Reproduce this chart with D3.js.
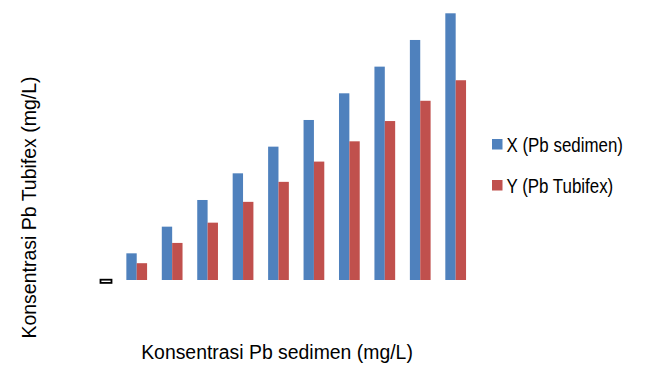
<!DOCTYPE html>
<html>
<head>
<meta charset="utf-8">
<script src="https://cdn.jsdelivr.net/npm/d3@7"></script>
<style>
  html, body { margin: 0; padding: 0; background: #fff; }
  svg { display: block; }
  text { font-family: "Liberation Sans", Arial, sans-serif; fill: #000; }
</style>
</head>
<body>
<svg id="chart" width="645" height="367"></svg>
<script>
const categories = ["1","2","3","4","5","6","7","8","9","10"];
const seriesNames = ["X (Pb sedimen)", "Y (Pb Tubifex)"];
const xValues = [1, 2, 3, 4, 5, 6, 7, 8, 9, 10];
const yValues = [0.63, 1.39, 2.15, 2.93, 3.68, 4.44, 5.2, 5.96, 6.72, 7.49];
const seriesColors = ["#4F81BD", "#C0504D"];
const yDomain = [0, 10];
const xTitle = "Konsentrasi Pb sedimen (mg/L)";
const yTitle = "Konsentrasi Pb Tubifex (mg/L)";

const svg = d3.select("#chart");
const plot = { left: 119, right: 473.4, top: 13.3, bottom: 280 };

const x0 = d3.scaleBand().domain(categories)
  .range([plot.left, plot.right]).paddingInner(0.415).paddingOuter(0.2075);
const x1 = d3.scaleBand().domain([0, 1]).range([0, x0.bandwidth()]);
const y = d3.scaleLinear().domain(yDomain).range([plot.bottom, plot.top]);

const data = categories.map((c, i) => ({ cat: c, vals: [xValues[i], yValues[i]] }));

const g = svg.append("g");
const groups = g.selectAll("g.grp").data(data).join("g")
  .attr("transform", d => `translate(${x0(d.cat)},0)`);
groups.selectAll("rect").data(d => d.vals.map((v, k) => ({ v, k }))).join("rect")
  .attr("x", d => x1(d.k))
  .attr("width", x1.bandwidth())
  .attr("y", d => y(d.v))
  .attr("height", d => y(0) - y(d.v))
  .attr("fill", d => seriesColors[d.k]);

// small tick label box at origin
svg.append("rect")
  .attr("x", plot.left - 18.5).attr("y", y(0) - 0.3)
  .attr("width", 11).attr("height", 3.2)
  .attr("fill", "none").attr("stroke", "#000").attr("stroke-width", 1.8);

// axis titles
svg.append("text")
  .attr("transform", "translate(277,358.5) scale(1,1.08)")
  .attr("text-anchor", "middle")
  .style("font-size", "19.4px")
  .text(xTitle);

svg.append("text")
  .attr("transform", "translate(36,207.5) rotate(-90) scale(1,1.08)")
  .attr("text-anchor", "middle")
  .style("font-size", "19.5px")
  .text(yTitle);

// legend
const legend = svg.append("g");
seriesNames.forEach((name, i) => {
  const ly = 139 + i * 41;
  legend.append("rect").attr("x", 492).attr("y", ly).attr("width", 10.5).attr("height", 10.5)
    .attr("fill", seriesColors[i]);
  legend.append("text")
    .attr("transform", `translate(506.5,${ly + 12.7}) scale(1,1.15)`)
    .style("font-size", "16.9px").text(name);
});
</script>
</body>
</html>
